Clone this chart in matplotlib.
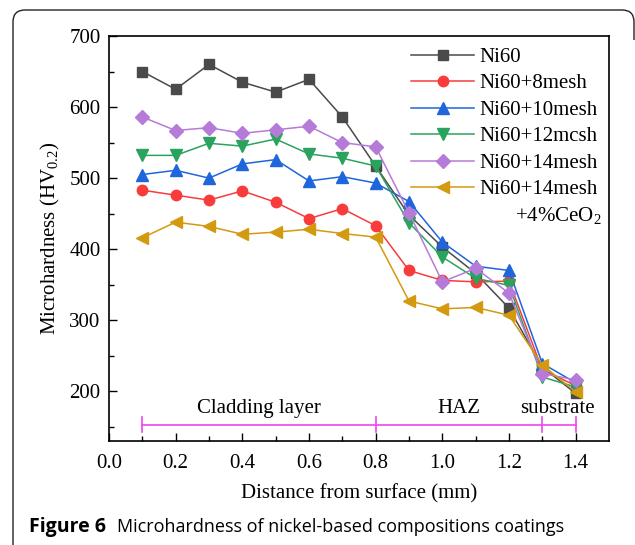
import matplotlib
matplotlib.use("Agg")
import matplotlib.pyplot as plt
from matplotlib.path import Path
from matplotlib.patches import PathPatch
import numpy as np

plt.rcParams['font.family'] = ['Liberation Serif', 'DejaVu Serif']
plt.rcParams['mathtext.fontset'] = 'custom'
plt.rcParams['mathtext.rm'] = 'Liberation Serif'
plt.rcParams['mathtext.it'] = 'Liberation Serif:italic'

distance = [0.1, 0.2, 0.3, 0.4, 0.5, 0.6, 0.7, 0.8, 0.9, 1.0, 1.1, 1.2, 1.3, 1.4]
ni60 = [650, 625, 660, 635, 621, 639, 586, 517, 448, 403, 366, 317, 234, 197]
ni60_8mesh = [483, 476, 469, 482, 466, 443, 457, 433, 370, 356, 354, 355, 230, 208]
ni60_10mesh = [505, 511, 500, 520, 526, 496, 502, 493, 467, 410, 376, 370, 239, 212]
ni60_12mesh = [532, 532, 549, 545, 555, 534, 528, 517, 437, 389, 359, 349, 220, 206]
ni60_14mesh = [586, 567, 571, 563, 568, 573, 550, 544, 451, 354, 373, 338, 225, 216]
ni60_14mesh_ceo2 = [416, 438, 432, 421, 424, 428, 422, 417, 327, 316, 318, 307, 237, 199]

labels = ['Ni60', 'Ni60+8mesh', 'Ni60+10mesh', 'Ni60+12mcsh', 'Ni60+14mesh', 'Ni60+14mesh']
series = [ni60, ni60_8mesh, ni60_10mesh, ni60_12mesh, ni60_14mesh, ni60_14mesh_ceo2]
colors = ['#4a4a4a', '#f83c3c', '#1f66dd', '#2aa35e', '#b67ad9', '#d39a10']
markers = ['s', 'o', '^', 'v', 'D', '<']
sizes = [7, 7.5, 8, 8, 7, 8]

region_bounds = [0.1, 0.8, 1.3, 1.4]
region_names = ['Cladding layer', 'HAZ', 'substrate']
region_label_x = [0.45, 1.05, 1.345]

fig = plt.figure(figsize=(6.35, 5.45), dpi=100)
ax = fig.add_axes([109/635, 1-441/545, 500/635, 405/545])

for y, lab, c, m, s in zip(series, labels, colors, markers, sizes):
    ax.plot(distance, y, color=c, marker=m, markersize=s, linewidth=1.1, label=lab,
            markeredgecolor=c)

ax.set_xlim(0.0, 1.5)
ax.set_ylim(130, 700)
ax.set_xticks(np.arange(0, 1.41, 0.2))
ax.set_xticks(np.arange(0.1, 1.5, 0.2), minor=True)
ax.set_yticks([200, 300, 400, 500, 600, 700])
ax.set_yticks([150, 250, 350, 450, 550, 650], minor=True)
ax.xaxis.set_major_formatter(matplotlib.ticker.FormatStrFormatter('%.1f'))
ax.tick_params(which='both', direction='in', top=False, right=False, labelsize=15, width=1)
ax.tick_params(which='major', length=6)
ax.tick_params(which='minor', length=3.5)
ax.tick_params(axis='x', pad=9)
ax.tick_params(axis='y', pad=6)
for sp in ax.spines.values():
    sp.set_linewidth(1.2)

ax.set_xlabel('Distance from surface (mm)', fontsize=15, labelpad=8)
ax.set_ylabel('Microhardness (HV$_{0.2}$)', fontsize=15, labelpad=5)

leg = ax.legend(loc='upper right', frameon=False, fontsize=15, handlelength=3.0,
                handletextpad=0.25, labelspacing=0.33, borderaxespad=0.15,
                bbox_to_anchor=(1.0, 1.0))
ax.text(0.985, 0.558, '+4%CeO$_2$', transform=ax.transAxes, fontsize=15,
        ha='right', va='center')

mag = '#ee44ee'
ly = 153
ax.plot([region_bounds[0], region_bounds[-1]], [ly, ly], color=mag, linewidth=1.2)
for b in region_bounds:
    ax.plot([b, b], [ly - 11, ly + 11], color=mag, linewidth=1.2)
for name, xx in zip(region_names, region_label_x):
    ax.text(xx, 176, name, fontsize=15, ha='center', va='center')

fig.text(29/635, 1-532/545, 'Figure 6', fontsize=14, fontweight='bold',
         family='Open Sans', va='baseline', ha='left')
fig.text(117/635, 1-532/545, 'Microhardness of nickel-based compositions coatings',
         fontsize=13, family='Open Sans', va='baseline', ha='left')

# rounded partial frame around figure (pixel coords)
W, H = 635, 545
r = 12
def P(x, y):
    return (x / W, 1 - y / H)
verts = [P(13, 548), P(13, 10 + r), P(13, 10), P(13 + r, 10), P(634 - r, 10), P(634, 10), P(634, 10 + r), P(634, 40)]
codes = [Path.MOVETO, Path.LINETO, Path.CURVE3, Path.CURVE3, Path.LINETO, Path.CURVE3, Path.CURVE3, Path.LINETO]
fig.add_artist(PathPatch(Path(verts, codes), transform=fig.transFigure, fill=False,
                         edgecolor='#222222', linewidth=1.0))

fig.savefig('out.png', dpi=100)
